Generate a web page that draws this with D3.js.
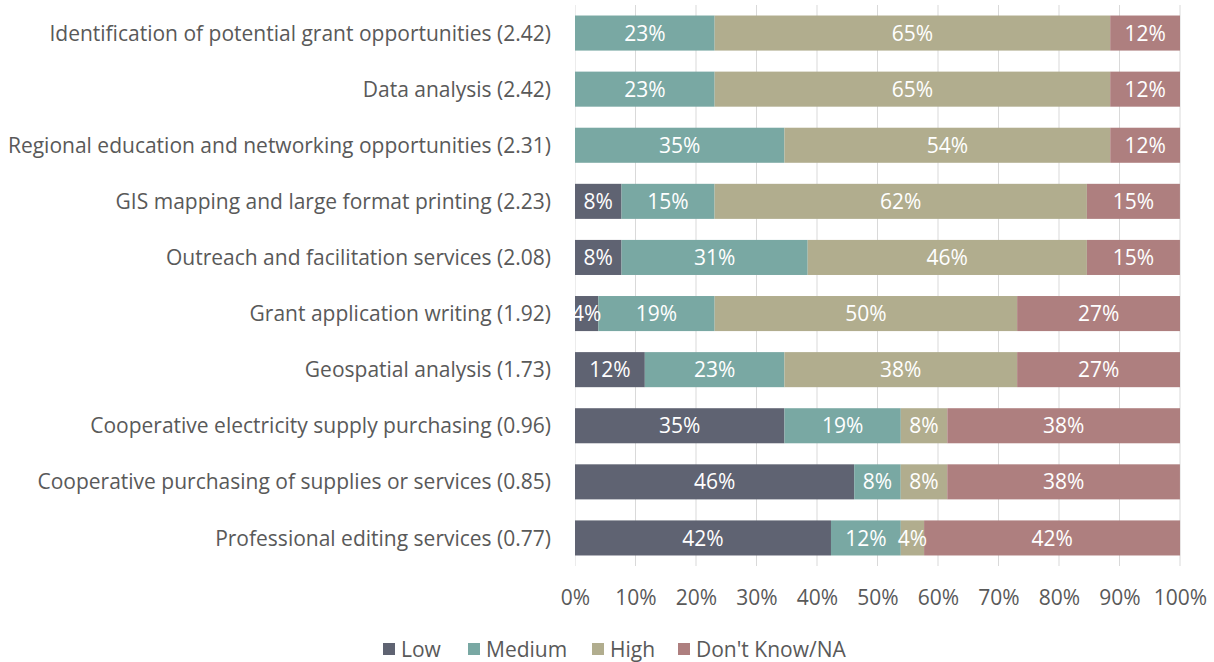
<!DOCTYPE html>
<html>
<head>
<meta charset="utf-8">
<script src="https://cdn.jsdelivr.net/npm/d3@7"></script>
<style>
  body { margin: 0; background: #fff; }
  text { font-family: "Open Sans", sans-serif; }
</style>
</head>
<body>
<div class="chart"></div>
<script>
// categories, top to bottom
const categories = [
  "Identification of potential grant opportunities (2.42)",
  "Data analysis (2.42)",
  "Regional education and networking opportunities (2.31)",
  "GIS mapping and large format printing (2.23)",
  "Outreach and facilitation services (2.08)",
  "Grant application writing (1.92)",
  "Geospatial analysis (1.73)",
  "Cooperative electricity supply purchasing (0.96)",
  "Cooperative purchasing of supplies or services (0.85)",
  "Professional editing services (0.77)"
];
const seriesNames = ["Low", "Medium", "High", "Don't Know/NA"];
// percent of respondents per category
const low    = [0, 0, 0, 7.69, 7.69, 3.85, 11.54, 34.62, 46.15, 42.31];
const medium = [23.08, 23.08, 34.62, 15.38, 30.77, 19.23, 23.08, 19.23, 7.69, 11.54];
const high   = [65.38, 65.38, 53.85, 61.54, 46.15, 50.00, 38.46, 7.69, 7.69, 3.85];
const dontKnow = [11.54, 11.54, 11.54, 15.38, 15.38, 26.92, 26.92, 38.46, 38.46, 42.31];
const ticks = [0, 10, 20, 30, 40, 50, 60, 70, 80, 90, 100];
const colors = ["#5f6372", "#79a8a3", "#b1ad8e", "#ae7f7f"];

const W = 1214, H = 662;
const fs = "21px";
const svg = d3.select(".chart").append("svg")
    .attr("width", W).attr("height", H);

const rows = categories.map((c, i) => ({
  cat: c, Low: low[i], Medium: medium[i], High: high[i], "Don't Know/NA": dontKnow[i]
}));

const x = d3.scaleLinear().domain([0, 100]).range([575, 1180]);
const y = d3.scaleBand().domain(categories).range([5, 566])
    .paddingInner(0.375).paddingOuter(0.1875);
const color = d3.scaleOrdinal().domain(seriesNames).range(colors);

// gridlines
svg.append("g").selectAll("line")
  .data(ticks)
  .join("line")
    .attr("x1", d => x(d)).attr("x2", d => x(d))
    .attr("y1", 5).attr("y2", 566)
    .attr("stroke", "#d9d9d9").attr("stroke-width", 1);

const stacked = d3.stack().keys(seriesNames)(rows);

const layer = svg.append("g").selectAll("g")
  .data(stacked)
  .join("g")
    .attr("fill", d => color(d.key));

layer.selectAll("rect")
  .data(d => d.filter(s => s[1] - s[0] > 0))
  .join("rect")
    .attr("x", d => x(d[0]))
    .attr("y", d => y(d.data.cat))
    .attr("width", d => x(d[1]) - x(d[0]))
    .attr("height", y.bandwidth());

// segment labels
const lab = svg.append("g");
stacked.forEach(s => {
  s.forEach(d => {
    const v = d[1] - d[0];
    if (v <= 0) return;
    lab.append("text")
      .attr("x", (x(d[0]) + x(d[1])) / 2)
      .attr("y", y(d.data.cat) + y.bandwidth() / 2)
      .attr("dy", "0.36em")
      .attr("text-anchor", "middle")
      .attr("fill", "#fff")
      .style("font-size", fs)
      .text(Math.round(v) + "%");
  });
});
// hide label parts that run left of the axis
svg.append("rect").attr("x", 0).attr("y", 0).attr("width", 575).attr("height", 570).attr("fill", "#fff");

// category labels
svg.append("g").selectAll("text")
  .data(categories)
  .join("text")
    .attr("x", 551)
    .attr("y", d => y(d) + y.bandwidth() / 2)
    .attr("dy", "0.36em")
    .attr("text-anchor", "end")
    .attr("fill", "#595959")
    .style("font-size", fs)
    .text(d => d);

// x axis
const xAxis = svg.append("g")
    .attr("transform", "translate(0,566)")
    .call(d3.axisBottom(x).tickValues(ticks).tickFormat(d => d + "%").tickSize(0).tickPadding(24));
xAxis.select(".domain").remove();
xAxis.selectAll("text").attr("fill", "#595959").style("font-size", fs)
    .style("font-family", "'Open Sans', sans-serif");

// legend
const legX = [383, 468, 592, 678];
const leg = svg.append("g").selectAll("g")
  .data(seriesNames)
  .join("g")
    .attr("transform", (d, i) => "translate(" + legX[i] + ",649)");
leg.append("rect")
    .attr("x", 0).attr("y", -6).attr("width", 12).attr("height", 12)
    .attr("fill", d => color(d));
leg.append("text")
    .attr("x", 18).attr("dy", "0.36em")
    .attr("fill", "#595959")
    .style("font-size", fs)
    .text(d => d);
</script>
</body>
</html>
